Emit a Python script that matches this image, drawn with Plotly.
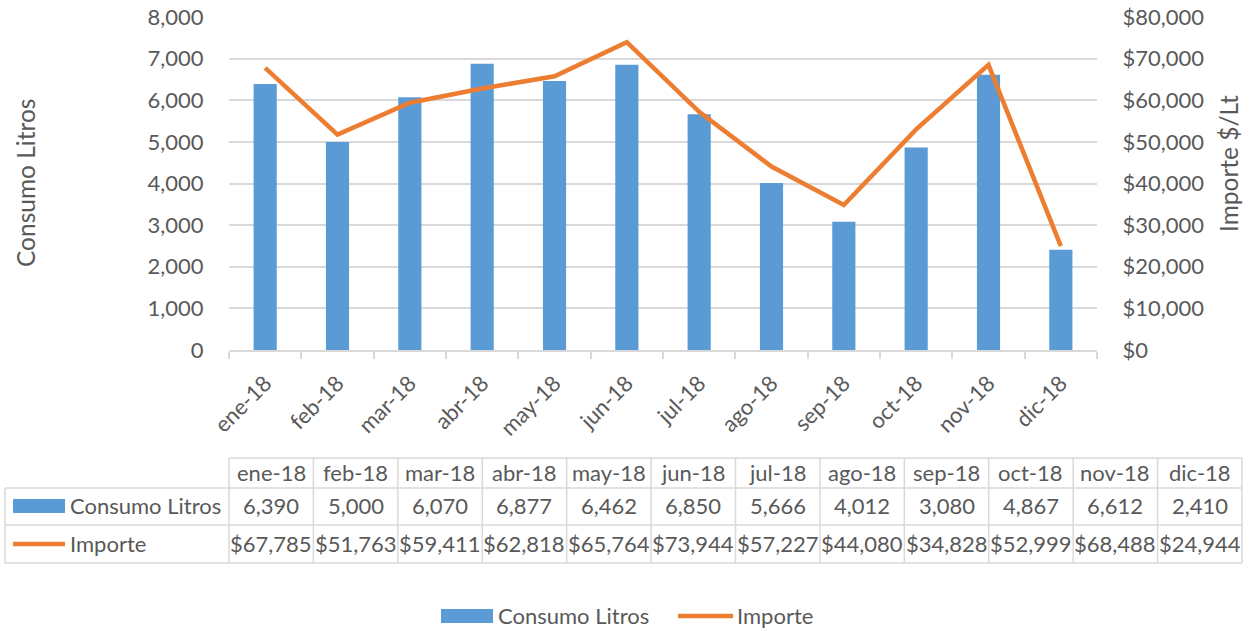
import plotly.graph_objects as go

# ---------------- data ----------------
months = ["ene-18", "feb-18", "mar-18", "abr-18", "may-18", "jun-18",
          "jul-18", "ago-18", "sep-18", "oct-18", "nov-18", "dic-18"]
consumo = [6390, 5000, 6070, 6877, 6462, 6850, 5666, 4012, 3080, 4867, 6612, 2410]
importe = [67785, 51763, 59411, 62818, 65764, 73944, 57227, 44080, 34828, 52999, 68488, 24944]
left_ticks = [0, 1000, 2000, 3000, 4000, 5000, 6000, 7000, 8000]
right_ticks = [0, 10000, 20000, 30000, 40000, 50000, 60000, 70000, 80000]
series_names = ["Consumo Litros", "Importe"]
left_title = "Consumo Litros"
right_title = "Importe $/Lt"

# ---------------- style ----------------
BLUE = "#5B9BD5"
ORANGE = "#ED7D31"
GREY_TXT = "#595959"
GRID = "#d9d9d9"
FONT = "Lato"
FS = 22

W, H = 1255, 631
L, R, T, B = 229, 1097, 17, 350


def px(x):
    return (x - L) / (R - L)


def py(y):
    return (B - y) / (B - T)


fig = go.Figure()
fig.add_trace(go.Bar(x=months, y=consumo, name=series_names[0],
                     marker=dict(color=BLUE, line=dict(width=0)), yaxis="y"))
fig.add_trace(go.Scatter(x=months, y=importe, name=series_names[1], mode="lines",
                         line=dict(color=ORANGE, width=4.5), yaxis="y2"))

shapes = []
annotations = []


def ann(x, y, text, xanchor="center", size=FS, angle=0):
    annotations.append(dict(x=px(x), y=py(y), xref="paper", yref="paper", text=text,
                            textangle=angle, showarrow=False, xanchor=xanchor,
                            yanchor="middle",
                            font=dict(family=FONT, size=size, color=GREY_TXT)))


# axis titles
ann(25, 183, left_title, size=24.5, angle=-90)
ann(1228, 164, right_title, size=24.5, angle=-90)

# ---------------- data table ----------------
tx0, tx1 = 229, 1242
cw = (tx1 - tx0) / len(months)
y_top, y_h, y_r1, y_bot = 458, 488, 525, 563
line_style = dict(color=GRID, width=1.5)

for yy, xa in [(y_top, tx0), (y_h, 5), (y_r1, 5), (y_bot, 5)]:
    shapes.append(dict(type="line", xref="paper", yref="paper",
                       x0=px(xa), x1=px(tx1), y0=py(yy), y1=py(yy), line=line_style))
shapes.append(dict(type="line", xref="paper", yref="paper",
                   x0=px(5), x1=px(5), y0=py(y_h), y1=py(y_bot), line=line_style))
for i in range(len(months) + 1):
    xx = tx0 + i * cw
    shapes.append(dict(type="line", xref="paper", yref="paper",
                       x0=px(xx), x1=px(xx), y0=py(y_top), y1=py(y_bot), line=line_style))

for i, m in enumerate(months):
    cx = tx0 + (i + 0.5) * cw
    ann(cx, (y_top + y_h) / 2 - 1, m)
    ann(cx, (y_h + y_r1) / 2 - 1, f"{consumo[i]:,}")
    ann(cx, (y_r1 + y_bot) / 2 - 1, f"${importe[i]:,}")

# table legend keys
shapes.append(dict(type="rect", xref="paper", yref="paper", x0=px(13), x1=px(65),
                   y0=py(513), y1=py(499), fillcolor=BLUE, line=dict(width=0)))
shapes.append(dict(type="line", xref="paper", yref="paper", x0=px(13), x1=px(65),
                   y0=py(544), y1=py(544), line=dict(color=ORANGE, width=4.5)))
ann(68, (y_h + y_r1) / 2 - 1, series_names[0], xanchor="left")
ann(68, (y_r1 + y_bot) / 2 - 1, series_names[1], xanchor="left")

# bottom legend
shapes.append(dict(type="rect", xref="paper", yref="paper", x0=px(441), x1=px(493),
                   y0=py(623), y1=py(609), fillcolor=BLUE, line=dict(width=0)))
ann(496, 615, series_names[0], xanchor="left")
shapes.append(dict(type="line", xref="paper", yref="paper", x0=px(678), x1=px(733),
                   y0=py(616), y1=py(616), line=dict(color=ORANGE, width=4.5)))
ann(735, 615, series_names[1], xanchor="left")

fig.update_layout(
    width=W, height=H, autosize=False,
    margin=dict(l=L, r=W - R, t=T, b=H - B, pad=0, autoexpand=False),
    paper_bgcolor="white", plot_bgcolor="white",
    showlegend=False,
    bargap=0.68,
    font=dict(family=FONT, size=FS, color=GREY_TXT),
    xaxis=dict(type="category", tickson="boundaries", ticks="outside", ticklen=7,
               tickcolor=GRID, tickwidth=1.5, showline=True, linecolor=GRID, linewidth=1.5,
               showgrid=False, tickangle=-45, automargin=False, ticklabelstandoff=10,
               tickfont=dict(family=FONT, size=FS, color=GREY_TXT)),
    yaxis=dict(range=[0, 8000], tickvals=left_ticks, ticktext=[f"{v:,}" for v in left_ticks],
               showgrid=True, automargin=False,
               gridcolor=GRID, gridwidth=1.5, zeroline=False, showline=False,
               ticks="outside", ticklen=20, tickcolor="rgba(0,0,0,0)",
               tickfont=dict(family=FONT, size=FS, color=GREY_TXT)),
    yaxis2=dict(range=[0, 80000], tickvals=right_ticks,
                ticktext=[f"${v:,}" for v in right_ticks], automargin=False,
                overlaying="y", side="right", showgrid=False, zeroline=False, showline=False,
                ticks="outside", ticklen=20, tickcolor="rgba(0,0,0,0)",
                tickfont=dict(family=FONT, size=FS, color=GREY_TXT)),
    shapes=shapes,
    annotations=annotations,
)

fig.write_html("out.html", config={"displayModeBar": False},
               post_script="document.body.style.margin='0';document.body.style.overflow='hidden';")
